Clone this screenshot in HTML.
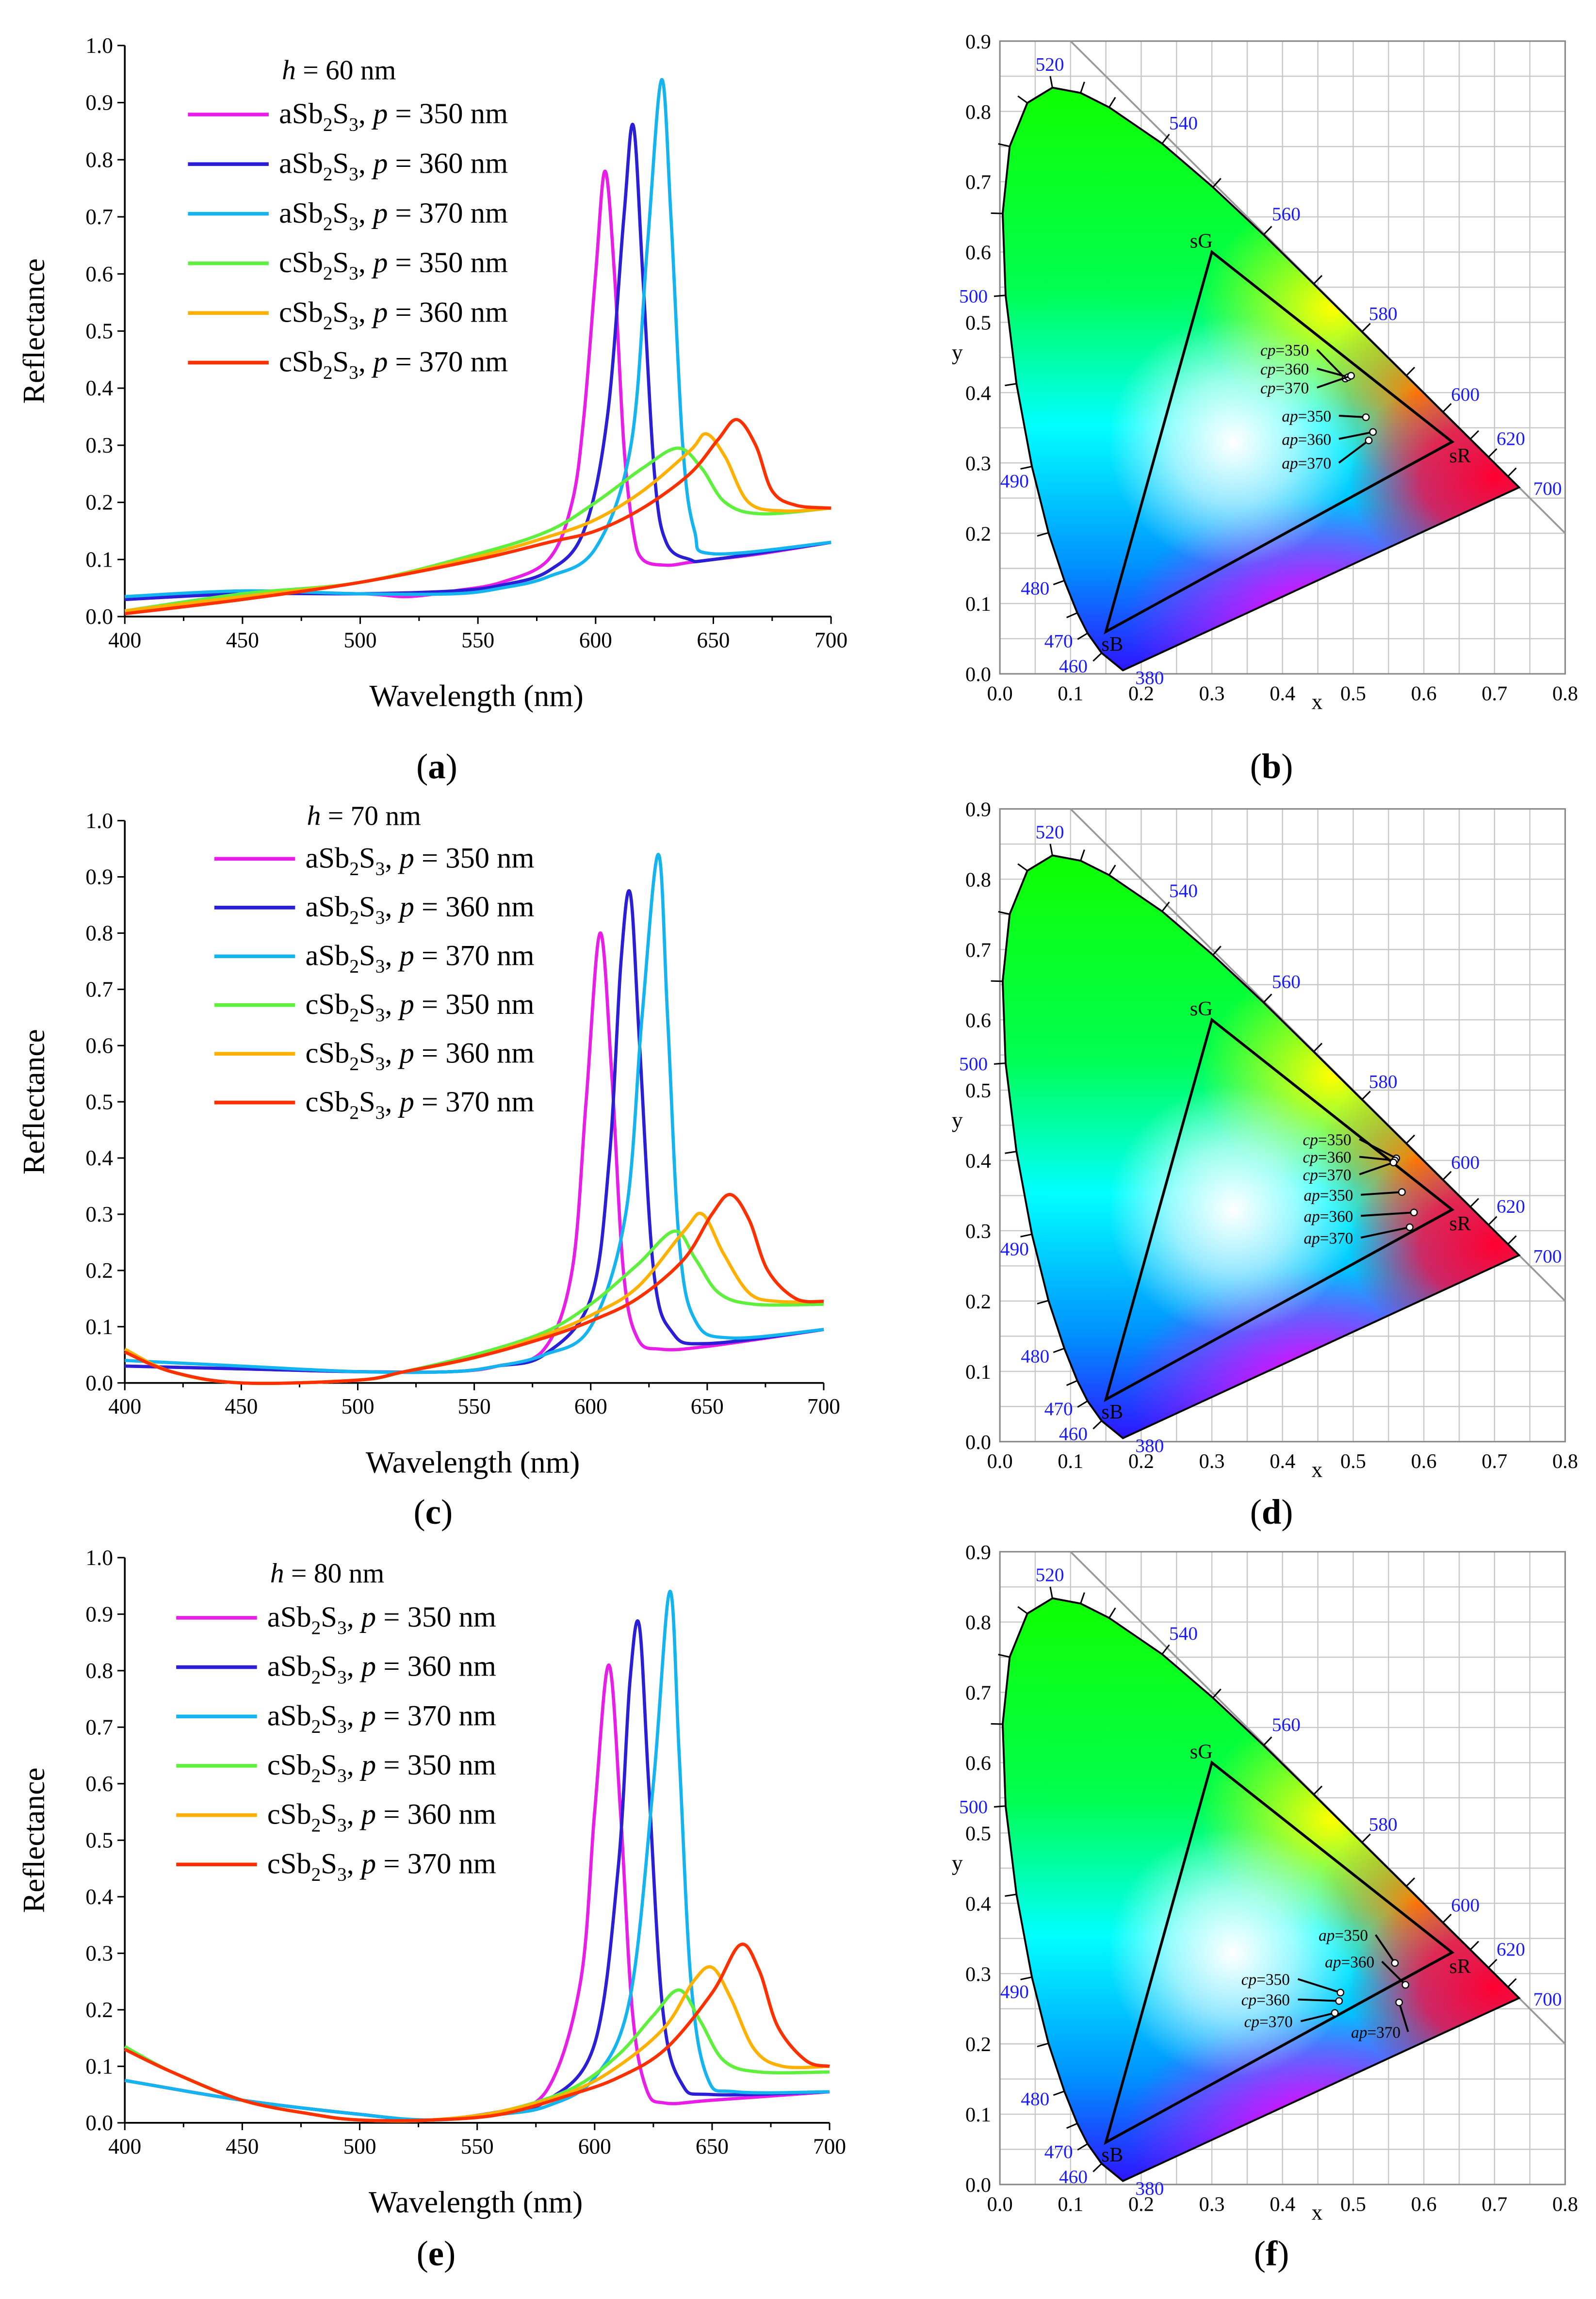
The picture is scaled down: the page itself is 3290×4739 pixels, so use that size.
<!DOCTYPE html>
<html><head><meta charset="utf-8">
<style>
html,body{margin:0;padding:0;background:#fff;}
svg{display:block;}
text{font-family:"Liberation Serif",serif;}
</style></head>
<body>
<svg id="fig" width="3290" height="4739" viewBox="0 0 1087 1566" preserveAspectRatio="none" xmlns="http://www.w3.org/2000/svg">
<defs>
<linearGradient id="gV" x1="0" y1="0" x2="0" y2="1">
<stop offset="0" stop-color="#10ff00"/><stop offset="0.35" stop-color="#00ff50"/><stop offset="0.58" stop-color="#00ffff"/><stop offset="0.82" stop-color="#0090ff"/><stop offset="1" stop-color="#3010ff"/></linearGradient>
<radialGradient id="gYel"><stop offset="0" stop-color="#ffff00" stop-opacity="1"/><stop offset="1" stop-color="#ffff00" stop-opacity="0"/></radialGradient>
<radialGradient id="gOr"><stop offset="0" stop-color="#ff8000" stop-opacity="1"/><stop offset="1" stop-color="#ff8000" stop-opacity="0"/></radialGradient>
<radialGradient id="gRed"><stop offset="0" stop-color="#ff0030" stop-opacity="1"/><stop offset="0.5" stop-color="#ff0040" stop-opacity="0.8"/><stop offset="1" stop-color="#ff0040" stop-opacity="0"/></radialGradient>
<radialGradient id="gM"><stop offset="0" stop-color="#ff00ff" stop-opacity="1"/><stop offset="1" stop-color="#ff00ff" stop-opacity="0"/></radialGradient>
<radialGradient id="gW"><stop offset="0" stop-color="#fff" stop-opacity="1"/><stop offset="0.5" stop-color="#fff" stop-opacity="0.6"/><stop offset="1" stop-color="#fff" stop-opacity="0"/></radialGradient>
</defs>
</svg>
<script>
// ---- spectra data ----
const wlA1=[400,450,500,520,540,560,580,590,595,600,604,608,612,616,620,630,640,650,670,700];
const rA1=[0.03,0.04,0.04,0.035,0.045,0.06,0.1,0.2,0.35,0.6,0.78,0.6,0.3,0.15,0.1,0.09,0.095,0.1,0.11,0.13];
const wlA2=[400,450,500,540,560,580,595,605,612,616,620,625,630,640,650,700];
const rA2=[0.03,0.04,0.04,0.045,0.055,0.08,0.15,0.35,0.7,0.86,0.6,0.25,0.13,0.1,0.1,0.13];
const wlA3=[400,450,500,540,560,580,600,615,622,628,632,637,642,650,700];
const rA3=[0.035,0.045,0.04,0.04,0.05,0.07,0.12,0.3,0.65,0.94,0.7,0.3,0.15,0.11,0.13];
const wlA4=[400,450,500,550,580,600,620,635,645,655,670,700];
const rA4=[0.01,0.04,0.06,0.11,0.15,0.2,0.26,0.295,0.26,0.2,0.18,0.19];
const wlA5=[400,450,500,550,580,600,620,640,647,655,665,680,700];
const rA5=[0.01,0.035,0.06,0.105,0.14,0.17,0.22,0.29,0.32,0.28,0.2,0.185,0.19];
const wlA6=[400,450,500,550,580,600,620,640,652,660,668,675,685,700];
const rA6=[0.005,0.03,0.06,0.1,0.13,0.15,0.19,0.25,0.31,0.345,0.3,0.22,0.195,0.19];

const wlC1=[400,450,500,540,560,580,592,598,604,609,614,620,630,650,700];
const rC1=[0.03,0.025,0.02,0.02,0.03,0.06,0.2,0.5,0.8,0.55,0.2,0.08,0.06,0.065,0.095];
const wlC2=[400,450,500,540,560,580,600,608,613,617,621,627,635,650,700];
const rC2=[0.03,0.025,0.02,0.02,0.03,0.05,0.15,0.4,0.75,0.87,0.6,0.2,0.09,0.07,0.095];
const wlC3=[400,450,500,540,560,580,600,615,622,629,633,638,645,660,700];
const rC3=[0.04,0.03,0.02,0.02,0.03,0.05,0.1,0.3,0.65,0.94,0.65,0.25,0.11,0.08,0.095];
const wlC4=[400,420,450,500,520,550,580,600,620,636,645,655,670,700];
const rC4=[0.06,0.02,0.0,0.005,0.02,0.05,0.09,0.14,0.21,0.27,0.22,0.16,0.14,0.14];
const wlC5=[400,420,450,500,520,550,580,600,620,640,648,657,668,680,700];
const rC5=[0.06,0.02,0.0,0.005,0.02,0.045,0.085,0.12,0.17,0.27,0.3,0.23,0.16,0.145,0.145];
const wlC6=[400,420,450,500,520,550,580,600,620,640,652,660,668,676,688,700];
const rC6=[0.055,0.02,0.0,0.005,0.02,0.045,0.08,0.11,0.15,0.22,0.3,0.335,0.29,0.2,0.15,0.145];

const wlE1=[400,450,500,530,560,580,594,600,606,611,616,622,630,650,700];
const rE1=[0.075,0.04,0.015,0.005,0.02,0.06,0.25,0.55,0.81,0.55,0.2,0.06,0.035,0.04,0.055];
const wlE2=[400,450,500,530,560,580,600,610,615,619,623,629,637,650,700];
const rE2=[0.075,0.04,0.015,0.005,0.02,0.04,0.14,0.45,0.78,0.88,0.6,0.2,0.07,0.05,0.055];
const wlE3=[400,450,500,530,560,580,600,615,625,632,636,641,648,660,700];
const rE3=[0.075,0.04,0.015,0.005,0.015,0.03,0.08,0.22,0.6,0.94,0.65,0.25,0.08,0.055,0.055];
const wlE4=[400,420,450,480,500,530,560,590,610,625,636,645,655,670,700];
const rE4=[0.135,0.09,0.04,0.015,0.005,0.005,0.02,0.06,0.12,0.19,0.235,0.18,0.11,0.09,0.09];
const wlE5=[400,420,450,480,500,530,560,590,610,630,642,650,658,668,680,700];
const rE5=[0.13,0.09,0.04,0.015,0.005,0.005,0.02,0.055,0.1,0.17,0.25,0.275,0.22,0.13,0.1,0.1];
const wlE6=[400,420,450,480,500,530,560,590,610,630,650,662,670,678,690,700];
const rE6=[0.13,0.09,0.04,0.015,0.005,0.005,0.015,0.05,0.08,0.13,0.23,0.315,0.27,0.17,0.11,0.1];

const xTicks=[400,450,500,550,600,650,700];
const yTicks=[0.0,0.1,0.2,0.3,0.4,0.5,0.6,0.7,0.8,0.9,1.0];
const seriesLabels=["aSb","aSb","aSb","cSb","cSb","cSb"];
const seriesP=[350,360,370,350,360,370];
const seriesColors=["#e81ee8","#2a1ed6","#14b4f0","#5ef03c","#ffb000","#ff3000"];

// ---- chromaticity data ----
const locusWl=[380,460,470,475,480,485,490,495,500,505,510,515,520,525,530,540,550,560,570,580,590,600,610,620,640,700];
const locusX=[0.1741,0.1440,0.1241,0.1096,0.0913,0.0687,0.0454,0.0235,0.0082,0.0039,0.0139,0.0389,0.0743,0.1142,0.1547,0.2296,0.3016,0.3731,0.4441,0.5125,0.5752,0.6270,0.6658,0.6915,0.7190,0.7347];
const locusY=[0.0050,0.0297,0.0578,0.0868,0.1327,0.2007,0.2950,0.4127,0.5384,0.6548,0.7502,0.8120,0.8338,0.8262,0.8059,0.7543,0.6923,0.6245,0.5547,0.4866,0.4242,0.3725,0.3340,0.3083,0.2809,0.2653];
const gamutX=[0.64,0.30,0.15];
const gamutY=[0.33,0.60,0.06];
const cieTicks=[0.0,0.1,0.2,0.3,0.4,0.5,0.6,0.7,0.8];
const cieYTicks=[0.0,0.1,0.2,0.3,0.4,0.5,0.6,0.7,0.8,0.9];
const ptNames=["cp=350","cp=360","cp=370","ap=350","ap=360","ap=370"];
const ptXb=[0.489,0.493,0.497,0.518,0.528,0.522];
const ptYb=[0.420,0.422,0.424,0.365,0.344,0.332];
const ptXd=[0.561,0.559,0.557,0.569,0.586,0.580];
const ptYd=[0.403,0.400,0.397,0.355,0.326,0.305];
const ptXf=[0.482,0.480,0.474,0.559,0.574,0.565];
const ptYf=[0.273,0.261,0.244,0.315,0.284,0.259];

const NS="http://www.w3.org/2000/svg";
const svg=document.getElementById('fig');
function mk(tag,attrs,parent){const e=document.createElementNS(NS,tag);for(const k in attrs)e.setAttribute(k,attrs[k]);(parent||svg).appendChild(e);return e;}
function smooth(pts){let d="M"+pts[0][0].toFixed(2)+","+pts[0][1].toFixed(2);
 for(let i=0;i<pts.length-1;i++){const p0=pts[Math.max(0,i-1)],p1=pts[i],p2=pts[i+1],p3=pts[Math.min(pts.length-1,i+2)];
  const c1=[p1[0]+(p2[0]-p0[0])/6,p1[1]+(p2[1]-p0[1])/6],c2=[p2[0]-(p3[0]-p1[0])/6,p2[1]-(p3[1]-p1[1])/6];
  d+="C"+c1[0].toFixed(2)+","+c1[1].toFixed(2)+" "+c2[0].toFixed(2)+","+c2[1].toFixed(2)+" "+p2[0].toFixed(2)+","+p2[1].toFixed(2);}
 return d;}

function spectra(cfg){
 const g=mk('g',{});
 
 
 const sx=w=>cfg.x0+(w-400)/300*(cfg.x1-cfg.x0);
 const sy=r=>cfg.yb-r*(cfg.yb-cfg.yt);
 const ax=mk('path',{d:`M${cfg.x0},${cfg.yt}V${cfg.yb}H${cfg.x1}`,stroke:'#000','stroke-width':1.2,fill:'none'},g);
 
 
 xTicks.forEach(v=>{const x=sx(v);mk('line',{x1:x,x2:x,y1:cfg.yb,y2:cfg.yb+5,stroke:'#000'},g);
  const t=mk('text',{x:x,y:cfg.yb+21,'font-size':15,'text-anchor':'middle'},g);t.textContent=v;
  
  });
 for(let v=425;v<700;v+=50){const x=sx(v);mk('line',{x1:x,x2:x,y1:cfg.yb,y2:cfg.yb+3,stroke:'#000'},g);}
 yTicks.forEach(v=>{const y=sy(v);mk('line',{x1:cfg.x0-5,x2:cfg.x0,y1:y,y2:y,stroke:'#000'},g);
  const t=mk('text',{x:cfg.x0-8,y:y+5,'font-size':15,'text-anchor':'end'},g);t.textContent=v.toFixed(1);
  
  });
 const xl=mk('text',{x:(cfg.x0+cfg.x1)/2-1,y:cfg.yb+61,'font-size':21,'text-anchor':'middle'},g);xl.textContent='Wavelength (nm)';
 
 
 const yl=mk('text',{x:0,y:0,'font-size':21,'text-anchor':'middle',transform:`translate(${cfg.x0-55},${(cfg.yt+cfg.yb)/2}) rotate(-90)`},g);yl.textContent='Reflectance';
 
 
 cfg.data.forEach((s,i)=>{const pts=s[0].map((w,j)=>[sx(w),sy(s[1][j])]);
  const p=mk('path',{d:smooth(pts),stroke:seriesColors[i],'stroke-width':2.2,fill:'none'},g);
  
  });
 const tt=mk('text',{x:cfg.lt[0],y:cfg.lt[1],'font-size':19},g);
 tt.innerHTML='<tspan font-style="italic">h</tspan> = '+cfg.h+' nm';
 
 
 seriesLabels.forEach((lab,i)=>{const y=cfg.ly0+i*cfg.ldy;
  const le=mk('g',{},g);
  
  
  mk('line',{x1:cfg.lx,x2:cfg.lx+55,y1:y-6,y2:y-6,stroke:seriesColors[i],'stroke-width':2.5},le);
  const t=mk('text',{x:cfg.lx+62,y:y,'font-size':20},le);
  t.innerHTML=lab+'<tspan font-size="13" dy="5">2</tspan><tspan dy="-5">S</tspan><tspan font-size="13" dy="5">3</tspan><tspan dy="-5">, </tspan><tspan font-style="italic">p</tspan> = '+seriesP[i]+' nm';});
 const pl=mk('text',{x:(cfg.x0+cfg.x1)/2-28,y:cfg.letterY,'font-size':24,'text-anchor':'middle'},g);
 pl.innerHTML='(<tspan font-weight="bold">'+cfg.id+'</tspan>)';
 
 
}
spectra({id:'a',x0:85,x1:566,yb:420,yt:31,h:60,lt:[192,54],lx:128,ly0:84,ldy:33.8,letterY:530,
 data:[[wlA1,rA1],[wlA2,rA2],[wlA3,rA3],[wlA4,rA4],[wlA5,rA5],[wlA6,rA6]]});
spectra({id:'c',x0:85,x1:561,yb:942,yt:559,h:70,lt:[209,562],lx:146,ly0:591,ldy:33.2,letterY:1038,
 data:[[wlC1,rC1],[wlC2,rC2],[wlC3,rC3],[wlC4,rC4],[wlC5,rC5],[wlC6,rC6]]});
spectra({id:'e',x0:85,x1:565,yb:1446,yt:1061,h:80,lt:[184,1078],lx:120,ly0:1108,ldy:33.6,letterY:1543,
 data:[[wlE1,rE1],[wlE2,rE2],[wlE3,rE3],[wlE4,rE4],[wlE5,rE5],[wlE6,rE6]]});

const wlLabels=[[520,715,43],[540,806,83],[560,876,145],[580,942,213],[600,998,268],[620,1029,298],[700,1054,332],[500,663,201],[490,691,327],[480,705,400],[470,721,436],[460,731,453],[380,783,461]];
function cie(cfg){
 const g=mk('g',{});
 
 
 const X0=681,X1=1066,yb=cfg.yb,yt=cfg.yb-431;
 const sx=v=>X0+v/0.8*(X1-X0), sy=v=>yb-v/0.9*(yb-yt);
 for(let v=0;v<=0.8001;v+=0.05){mk('line',{x1:sx(v),x2:sx(v),y1:yt,y2:yb,stroke:'#c8c8c8','stroke-width':0.8},g);}
 for(let v=0;v<=0.9001;v+=0.05){mk('line',{x1:X0,x2:X1,y1:sy(v),y2:sy(v),stroke:'#c8c8c8','stroke-width':0.8},g);}
 mk('rect',{x:X0,y:yt,width:X1-X0,height:yb-yt,fill:'none',stroke:'#888','stroke-width':1},g);
 mk('line',{x1:sx(0.1),y1:sy(0.9),x2:sx(0.8),y2:sy(0.2),stroke:'#999','stroke-width':1.2},g);
 const pts=locusX.map((x,i)=>[sx(x),sy(locusY[i])]);
 const d="M"+pts.map(p=>p[0].toFixed(1)+","+p[1].toFixed(1)).join("L")+"Z";
 const cid='clip'+cfg.id;
 const cp=mk('clipPath',{id:cid},g);mk('path',{d:d},cp);
 const fg=mk('g',{'clip-path':`url(#${cid})`},g);
 
 
 const bx=sx(0),by=sy(0.84),bw=sx(0.74)-sx(0),bh=sy(0)-sy(0.84);
 mk('rect',{x:bx,y:by,width:bw,height:bh,fill:'url(#gV)'},fg);
 mk('ellipse',{cx:sx(0.45),cy:sy(0.08),rx:130,ry:80,fill:'url(#gM)'},fg);
 mk('ellipse',{cx:sx(0.47),cy:sy(0.52),rx:90,ry:75,fill:'url(#gYel)'},fg);
 mk('ellipse',{cx:sx(0.59),cy:sy(0.40),rx:70,ry:60,fill:'url(#gOr)'},fg);
 mk('ellipse',{cx:sx(0.70),cy:sy(0.28),rx:100,ry:75,fill:'url(#gRed)'},fg);
 mk('ellipse',{cx:sx(0.33),cy:sy(0.33),rx:85,ry:85,fill:'url(#gW)'},fg);
 const hs=mk('path',{d:d,fill:'none',stroke:'#000','stroke-width':1.3},g);
 
 
 for(let i=1;i<pts.length-1;i++){const a=pts[i-1],b=pts[i+1],p=pts[i];let nx=-(b[1]-a[1]),ny=(b[0]-a[0]);const L=Math.hypot(nx,ny);nx/=L;ny/=L;
  const c=[sx(0.33),sy(0.33)];if((p[0]-c[0])*nx+(p[1]-c[1])*ny<0){nx=-nx;ny=-ny;}
  mk('line',{x1:p[0],y1:p[1],x2:p[0]+nx*8,y2:p[1]+ny*8,stroke:'#000','stroke-width':1},g);}
 const off=cfg.yb-459;
 wlLabels.forEach(l=>{const t=mk('text',{x:l[1],y:l[2]+off+5,'font-size':13,fill:'#1a1aff','text-anchor':'middle'},g);t.textContent=l[0];
  
  });
 const tri=mk('path',{d:"M"+gamutX.map((x,i)=>sx(x)+","+sy(gamutY[i])).join("L")+"Z",fill:'none',stroke:'#000','stroke-width':1.8},g);
 
 
 [['sR',sx(0.64)-2,sy(0.33)+14],['sG',sx(0.30)-15,sy(0.60)-3],['sB',sx(0.15)-3,sy(0.06)+13]].forEach(a=>{
  const t=mk('text',{x:a[1],y:a[2],'font-size':14},g);t.textContent=a[0];
  
  });
 cieTicks.forEach(v=>{const t=mk('text',{x:sx(v),y:yb+18,'font-size':14,'text-anchor':'middle'},g);t.textContent=v.toFixed(1);
  
  });
 cieYTicks.forEach(v=>{const t=mk('text',{x:X0-6,y:sy(v)+5,'font-size':14,'text-anchor':'end'},g);t.textContent=v.toFixed(1);
  
  });
 const xt=mk('text',{x:897,y:yb+24,'font-size':15,'text-anchor':'middle'},g);xt.textContent='x';
 
 
 const yt2=mk('text',{x:652,y:yb-214,'font-size':15,'text-anchor':'middle'},g);yt2.textContent='y';
 
 
 cfg.px.forEach((x,i)=>{const p=[sx(x),sy(cfg.py[i])];const L=[sx(cfg.lx[i]),sy(cfg.ly[i])];
  mk('line',{x1:L[0]+22,y1:L[1]-2,x2:p[0],y2:p[1],stroke:'#000','stroke-width':1.3},g);
  const c=mk('circle',{cx:p[0],cy:p[1],r:2.2,fill:'#fff',stroke:'#000','stroke-width':0.8},g);
  
  
  const t=mk('text',{x:L[0],y:L[1]+2,'font-size':11,'text-anchor':'middle','font-style':'italic'},g);
  t.innerHTML=ptNames[i].slice(0,2)+'<tspan font-style="normal">'+ptNames[i].slice(2)+'</tspan>';
  
  });
 const pl=mk('text',{x:866,y:cfg.letterY,'font-size':24,'text-anchor':'middle'},g);
 pl.innerHTML='(<tspan font-weight="bold">'+cfg.id+'</tspan>)';
 
 
}
cie({id:'b',yb:459,letterY:530,px:ptXb,py:ptYb,lx:[0.403,0.403,0.403,0.434,0.434,0.434],ly:[0.457,0.43,0.403,0.363,0.33,0.296]});
cie({id:'d',yb:982,letterY:1038,px:ptXd,py:ptYd,lx:[0.463,0.463,0.463,0.465,0.465,0.465],ly:[0.426,0.401,0.376,0.347,0.317,0.286]});
cie({id:'f',yb:1488,letterY:1543,px:ptXf,py:ptYf,lx:[0.376,0.376,0.38,0.486,0.495,0.532],ly:[0.288,0.259,0.228,0.351,0.313,0.213]});
</script>
</body></html>
